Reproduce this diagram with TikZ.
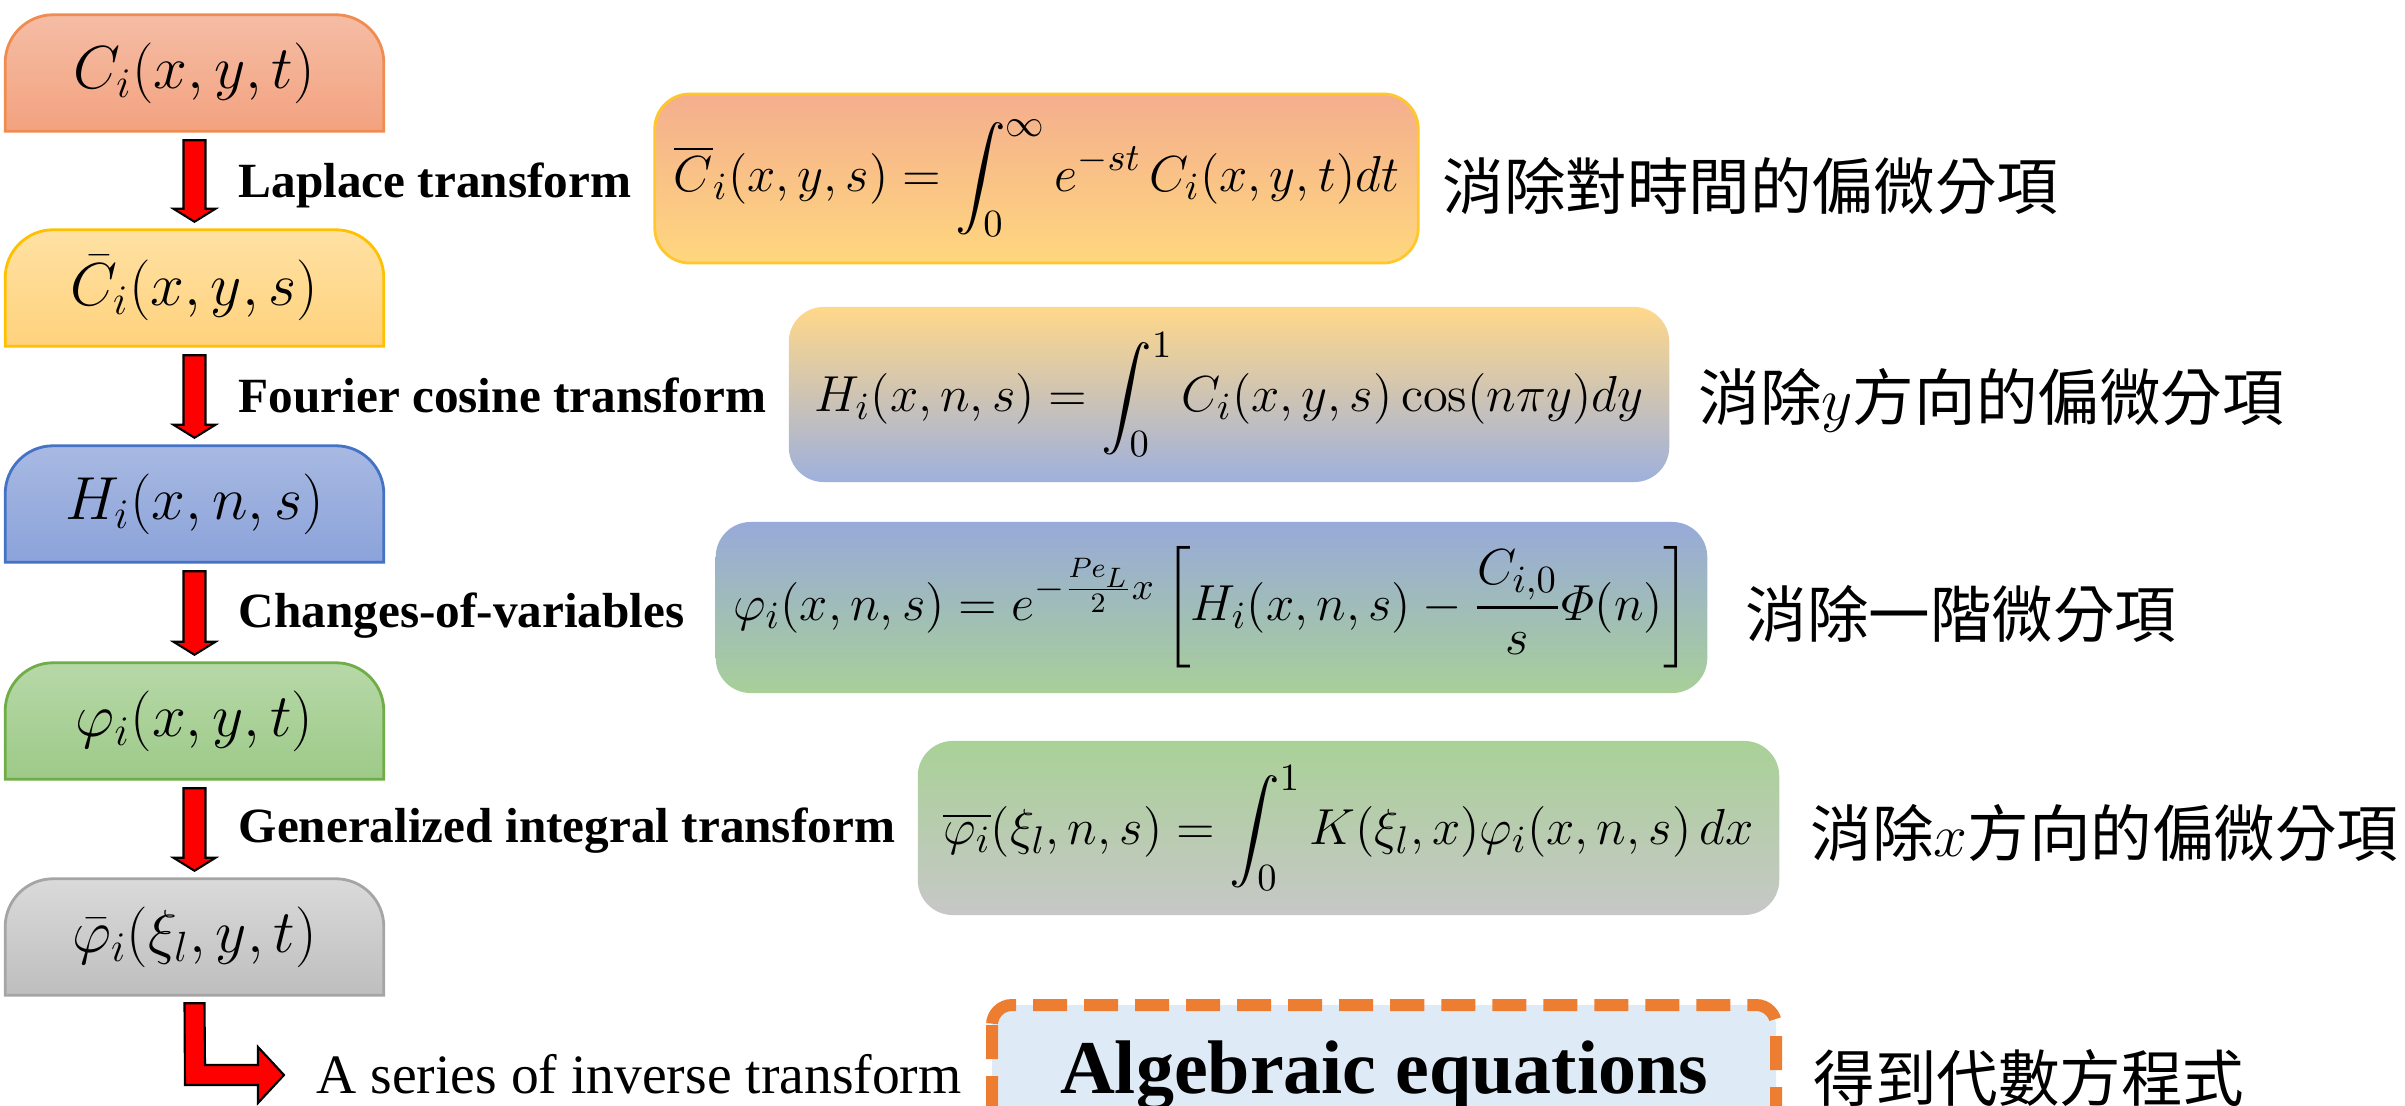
\documentclass[tikz,border=0pt]{standalone}
\usepackage{amsmath}
\usepackage[no-math]{fontspec}
\setmainfont{Liberation Serif}
\newfontfamily\cjk{Noto Sans CJK TC}
\usetikzlibrary{calc,backgrounds}

% colours
\definecolor{tabAt}{HTML}{F5BDA5}\definecolor{tabAb}{HTML}{F3A27F}\definecolor{tabAd}{HTML}{F08C50}
\definecolor{tabBt}{HTML}{FFE1A3}\definecolor{tabBb}{HTML}{FFD27D}\definecolor{tabBd}{HTML}{FFC000}
\definecolor{tabCt}{HTML}{A8B9E2}\definecolor{tabCb}{HTML}{8BA3DA}\definecolor{tabCd}{HTML}{4472C4}
\definecolor{tabDt}{HTML}{B7D8A8}\definecolor{tabDb}{HTML}{9DCA88}\definecolor{tabDd}{HTML}{70AD47}
\definecolor{tabEt}{HTML}{DADADA}\definecolor{tabEb}{HTML}{BEBEBE}\definecolor{tabEd}{HTML}{A5A5A5}
\definecolor{eqAt}{HTML}{F4AE8E}\definecolor{eqAb}{HTML}{FFD77E}\definecolor{eqAd}{HTML}{FFC72C}
\definecolor{eqBt}{HTML}{FFD88A}\definecolor{eqBb}{HTML}{9EB0DD}
\definecolor{eqCt}{HTML}{98AAD9}\definecolor{eqCb}{HTML}{A8CF99}
\definecolor{eqDt}{HTML}{A9D197}\definecolor{eqDb}{HTML}{C7C7C7}
\definecolor{algfill}{HTML}{DEEBF7}\definecolor{algframe}{HTML}{ED7D31}

\tikzset{
  tabbox/.style={minimum width=3.77cm, minimum height=1.15cm, inner sep=0pt, font=\fontsize{17.5}{20}\selectfont},
  eqbox/.style={rounded corners=0.35cm, inner sep=0pt, font=\fontsize{15.5}{18}\selectfont},
  steplabel/.style={anchor=base west, inner sep=0pt, font=\bfseries\fontsize{14}{16}\selectfont},
  cjklabel/.style={anchor=west, inner sep=0pt, font=\cjk\fontsize{17.5}{20}\selectfont},
  fatarrow/.style={fill=red, draw=black, line width=0.6pt, line join=miter},
}

% tab shape: flat bottom, rounded top corners
\newcommand{\tabshape}[4]{%
  \path[draw=#4, line width=0.8pt, top color=#2, bottom color=#3]
    (#1.south west) -- ($(#1.north west)+(0,48)$)
    arc[start angle=180, end angle=270, radius=48]
    -- ($(#1.north east)+(-48,0)$)
    arc[start angle=270, end angle=360, radius=48]
    -- (#1.south east) -- cycle;}

% red block arrow between two tabs
\newcommand{\downstep}[2]{%
  \draw[fatarrow] ($(#1.south)+(-11,9)$) -- ($(#1.south)+(11,9)$)
    -- ($(#2.north)+(11,-21)$) -- ($(#2.north)+(21,-21)$) -- ($(#2.north)+(0,-8)$)
    -- ($(#2.north)+(-21,-21)$) -- ($(#2.north)+(-11,-21)$) -- cycle;}

\begin{document}
\begin{tikzpicture}[x=0.01cm,y=-0.01cm]
\useasboundingbox (0,0) rectangle (2405,1106);
\clip (0,0) rectangle (2405,1106);

% Left boxes
\node[tabbox] (cxt) at (194.5,73) {$C_i(x,y,t)$};
\node[tabbox] (cxs) at (194.5,288) {$\bar{C}_i(x,y,s)$};
\node[tabbox] (hxn) at (194.5,504) {$H_i(x,n,s)$};
\node[tabbox] (phi) at (194.5,721) {$\varphi_i(x,y,t)$};
\node[tabbox] (phibar) at (194.5,937) {$\bar{\varphi}_i(\xi_l,y,t)$};
\begin{pgfonlayer}{background}
\tabshape{cxt}{tabAt}{tabAb}{tabAd}
\tabshape{cxs}{tabBt}{tabBb}{tabBd}
\tabshape{hxn}{tabCt}{tabCb}{tabCd}
\tabshape{phi}{tabDt}{tabDb}{tabDd}
\tabshape{phibar}{tabEt}{tabEb}{tabEd}
\end{pgfonlayer}

% Arrows
\downstep{cxt}{cxs}
\downstep{cxs}{hxn}
\downstep{hxn}{phi}
\downstep{phi}{phibar}

% Text Node
\node[steplabel] (lap) at (238,197) {Laplace transform};
\node[steplabel] (fou) at (238,412) {Fourier cosine transform};
\node[steplabel] (cov) at (238,627) {Changes-of-variables};
\node[steplabel] (git) at (238,842) {Generalized integral transform};
\node[anchor=base west, inner sep=0pt, font=\fontsize{15.8}{18}\selectfont] (inv) at (316,1093) {A series of inverse transform};

% Formula boxes
\node[eqbox, draw=eqAd, line width=0.8pt, top color=eqAt, bottom color=eqAb, minimum width=7.63cm, minimum height=1.69cm] (eqlap) at (1036.5,178.5)
  {$\displaystyle \overline{C}_i(x,y,s)=\int_0^\infty e^{-st}\,C_i(x,y,t)dt$};
\node[eqbox, top color=eqBt, bottom color=eqBb, minimum width=8.8cm, minimum height=1.75cm] (eqfou) at (1229,394.5)
  {$\displaystyle H_i(x,n,s)=\int_0^1 C_i(x,y,s)\cos(n\pi y)dy$};
\node[eqbox, top color=eqCt, bottom color=eqCb, minimum width=9.91cm, minimum height=1.71cm] (eqcov) at (1211.5,607.5)
  {$\displaystyle \varphi_i(x,n,s)=e^{-\frac{Pe_L}{2}x}\left[H_i(x,n,s)-\frac{C_{i,0}}{s}\varPhi(n)\right]$};
\node[eqbox, top color=eqDt, bottom color=eqDb, minimum width=8.61cm, minimum height=1.74cm] (eqgit) at (1348.5,828)
  {$\displaystyle \overline{\varphi_i}(\xi_l,n,s)=\int_0^1 K(\xi_l,x)\varphi_i(x,n,s)\,dx$};

% Result box
\draw[fill=algfill, draw=algframe, line width=0.12cm, dash pattern=on 0.34cm off 0.17cm, rounded corners=0.2cm] (992,1005) rectangle (1776,1200);
\node[anchor=base, inner sep=0pt, font=\bfseries\fontsize{21.6}{24}\selectfont] (alg) at (1384,1093) {Algebraic equations};

% L-shaped arrow
\coordinate (tip) at (284,1075);
\draw[fatarrow] ($(phibar.south)+(-10,8)$) -- ($(phibar.south)+(10,8)$) -- ($(tip)+(-79,-10)$)
  -- ($(tip)+(-26,-10)$) -- ($(tip)+(-26,-28)$) -- (tip) -- ($(tip)+(-26,28)$)
  -- ($(tip)+(-26,10)$) -- ($(tip)+(-99,10)$) -- cycle;

% Notes
\node[cjklabel] (n1) at (1442,186) {消除對時間的偏微分項};
\node[cjklabel] (n2) at (1698,400) {消除$y$方向的偏微分項};
\node[cjklabel] (n3) at (1745,614) {消除一階微分項};
\node[cjklabel] (n4) at (1810,833) {消除$x$方向的偏微分項};
\node[cjklabel] (n5) at (1813,1078) {得到代數方程式};

\end{tikzpicture}
\end{document}
